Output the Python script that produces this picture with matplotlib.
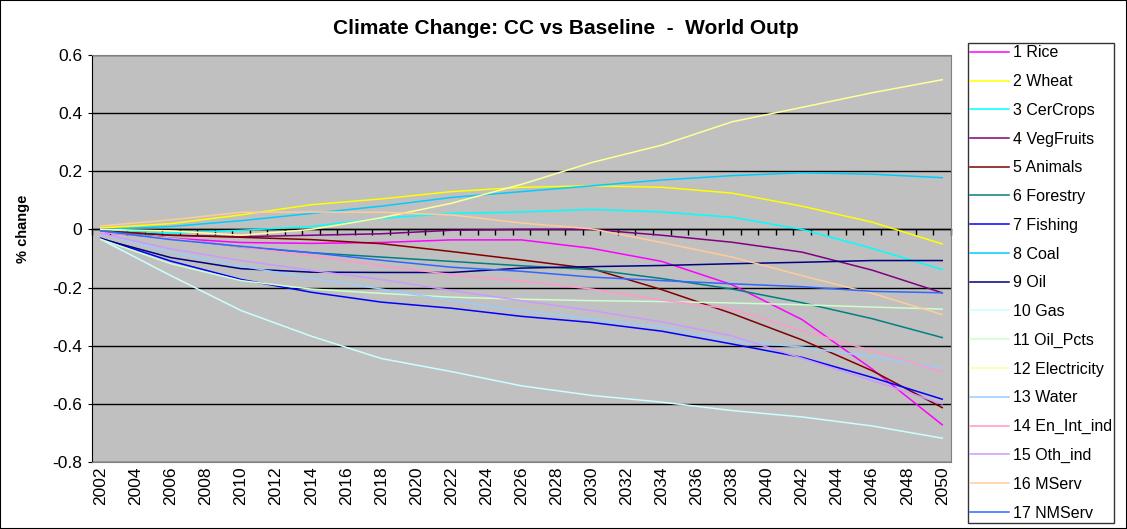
import numpy as np
import matplotlib
matplotlib.use('Agg')
import matplotlib.pyplot as plt

# categories (one per year) and the sampled years used for the series
years = list(range(2002, 2051))
sample_years = list(range(2002, 2051, 4))

# % change vs baseline at every 4th year
rice = [-0.01, -0.03, -0.045, -0.048, -0.045, -0.036, -0.036, -0.065, -0.11, -0.19, -0.31, -0.48, -0.672]
wheat = [0.005, 0.02, 0.05, 0.085, 0.105, 0.13, 0.145, 0.15, 0.145, 0.125, 0.08, 0.025, -0.05]
cercrops = [0.0, -0.013, -0.003, 0.01, 0.038, 0.055, 0.06, 0.069, 0.06, 0.042, 0.0, -0.065, -0.138]
vegfruits = [-0.005, -0.02, -0.025, -0.02, -0.015, -0.003, 0.0, 0.0, -0.02, -0.044, -0.078, -0.14, -0.218]
animals = [-0.005, -0.02, -0.027, -0.035, -0.049, -0.076, -0.105, -0.135, -0.207, -0.289, -0.38, -0.486, -0.613]
forestry = [-0.005, -0.03, -0.06, -0.08, -0.095, -0.11, -0.125, -0.138, -0.169, -0.205, -0.252, -0.307, -0.372]
fishing = [-0.03, -0.109, -0.172, -0.216, -0.25, -0.271, -0.299, -0.32, -0.35, -0.394, -0.44, -0.509, -0.584]
coal = [0.0, 0.01, 0.03, 0.055, 0.08, 0.11, 0.13, 0.15, 0.17, 0.185, 0.195, 0.19, 0.178]
oil = [-0.032, -0.097, -0.135, -0.147, -0.148, -0.148, -0.133, -0.128, -0.124, -0.118, -0.113, -0.107, -0.107]
gas = [-0.034, -0.159, -0.279, -0.367, -0.444, -0.489, -0.538, -0.571, -0.594, -0.623, -0.645, -0.676, -0.718]
oil_pcts = [-0.034, -0.118, -0.176, -0.205, -0.22, -0.233, -0.24, -0.245, -0.248, -0.253, -0.259, -0.267, -0.274]
electricity = [0.0, -0.005, -0.02, 0.0, 0.04, 0.09, 0.155, 0.23, 0.29, 0.37, 0.42, 0.47, 0.515]
water = [-0.014, -0.078, -0.126, -0.168, -0.205, -0.245, -0.28, -0.308, -0.335, -0.383, -0.405, -0.438, -0.477]
en_int_ind = [-0.01, -0.03, -0.06, -0.09, -0.125, -0.155, -0.178, -0.205, -0.243, -0.274, -0.348, -0.417, -0.489]
oth_ind = [-0.014, -0.067, -0.107, -0.141, -0.172, -0.21, -0.245, -0.279, -0.318, -0.366, -0.443, -0.52, -0.6]
mserv = [0.012, 0.033, 0.059, 0.06, 0.059, 0.05, 0.022, 0.002, -0.045, -0.095, -0.159, -0.22, -0.293]
nmserv = [-0.005, -0.035, -0.058, -0.08, -0.106, -0.13, -0.144, -0.164, -0.176, -0.187, -0.197, -0.213, -0.218]

labels = ['1 Rice', '2 Wheat', '3 CerCrops', '4 VegFruits', '5 Animals', '6 Forestry',
          '7 Fishing', '8 Coal', '9 Oil', '10 Gas', '11 Oil_Pcts', '12 Electricity',
          '13 Water', '14 En_Int_ind', '15 Oth_ind', '16 MServ', '17 NMServ']
series = [rice, wheat, cercrops, vegfruits, animals, forestry, fishing, coal, oil, gas,
          oil_pcts, electricity, water, en_int_ind, oth_ind, mserv, nmserv]
colors = ['#FF00FF', '#FFFF00', '#00FFFF', '#800080', '#800000', '#008080', '#0000FF',
          '#00CCFF', '#000080', '#CCFFFF', '#CCFFCC', '#FFFF99', '#99CCFF', '#FF99CC',
          '#CC99FF', '#FFCC99', '#3366FF']

plt.rcParams['font.family'] = ['Liberation Sans', 'DejaVu Sans']
plt.rcParams['axes.unicode_minus'] = False

fig = plt.figure(figsize=(11.27, 5.29), dpi=100)
ax = fig.add_axes([92 / 1127, 1 - 462 / 529, (951 - 92) / 1127, (462 - 55) / 529])
ax.set_facecolor('#C0C0C0')

xpos = [years.index(y) for y in sample_years]
for vals, lab, col in zip(series, labels, colors):
    ax.plot(xpos, vals, color=col, lw=1.1, label=lab)

ax.set_xlim(-0.5, len(years) - 0.5)
ax.set_ylim(-0.8, 0.6)
yt = np.arange(-0.8, 0.61, 0.2)
ax.set_yticks(yt)
ax.set_yticklabels([f'{v:g}' if abs(v) > 1e-9 else '0' for v in yt], fontsize=12.5)
ax.tick_params(axis='y', direction='out', length=3, color='black', pad=4)
ax.grid(axis='y', color='black', lw=1)
ax.set_axisbelow(True)

ax.set_xticks(range(0, len(years), 2))
ax.set_xticklabels([str(y) for y in years[::2]], rotation=90, fontsize=12.5)
ax.tick_params(axis='x', length=0, pad=3)

# category axis crossing at zero, tick marks between categories
secax = ax.secondary_xaxis(0.8 / 1.4)
secax.set_alignment('bottom')
secax.set_xticks(np.arange(-0.5, len(years), 1))
secax.set_xticklabels([])
secax.tick_params(direction='out', length=4, width=1, color='black')
secax.spines['bottom'].set_color('black')
secax.spines['bottom'].set_linewidth(1)

for s in ['top', 'right', 'bottom']:
    ax.spines[s].set_color('#808080')
ax.spines['left'].set_color('black')

ax.set_ylabel('% change', fontsize=10.5, fontweight='bold')
ax.yaxis.set_label_coords(-0.072, (462 - 229) / 407)

fig.text(0.502, 1 - 28 / 529, 'Climate Change: CC vs Baseline  -  World Outp',
         ha='center', va='center', fontsize=15, fontweight='bold')

leg = fig.legend(loc='upper left', bbox_to_anchor=(968 / 1127, 1 - 43 / 529),
                 fontsize=11.5, frameon=True, fancybox=False, handlelength=2.4,
                 handletextpad=0.25, labelspacing=0.86, borderpad=0.15, borderaxespad=0)
leg.get_frame().set_edgecolor('black')
leg.get_frame().set_linewidth(1)

# outer chart border
fig.patches.append(plt.Rectangle((0, 0), 1, 1, transform=fig.transFigure, fill=False,
                                 edgecolor='black', lw=1.5))

fig.savefig('out.png', dpi=100)
